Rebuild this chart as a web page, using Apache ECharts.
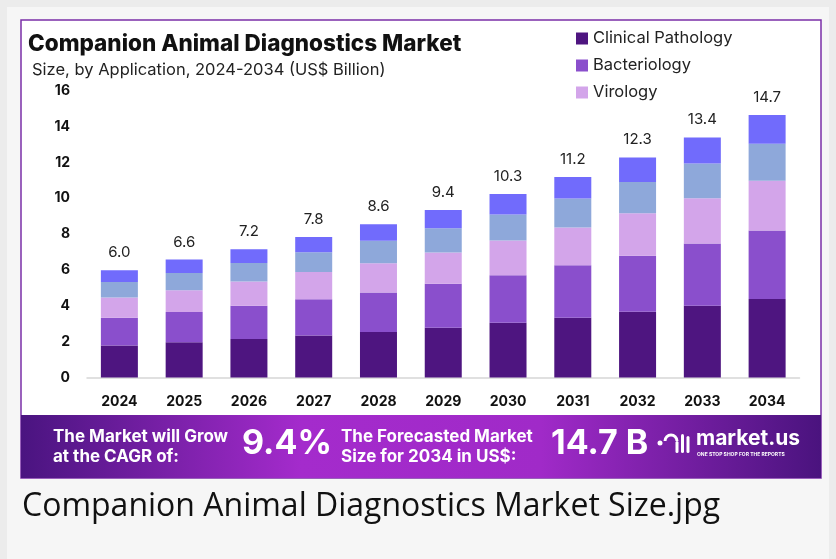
<!DOCTYPE html>
<html>
<head>
<meta charset="utf-8">
<style>
html, body { margin: 0; padding: 0; background: #ececec; }
#chart { width: 836px; height: 559px; }
</style>
<script src="https://cdn.jsdelivr.net/npm/echarts@6/dist/echarts.min.js"></script>
</head>
<body>
<div id="chart"></div>
<script>
// 横坐标 years
const years = ['2024', '2025', '2026', '2027', '2028', '2029', '2030', '2031', '2032', '2033', '2034']
// segments, bottom to top (US$ Billion)
const clinicalPathology = [1.78, 1.96, 2.15, 2.34, 2.54, 2.78, 3.06, 3.34, 3.67, 4.00, 4.38]
const bacteriology = [1.55, 1.70, 1.85, 2.03, 2.20, 2.45, 2.64, 2.92, 3.12, 3.47, 3.82]
const virology = [1.14, 1.21, 1.36, 1.51, 1.63, 1.75, 1.94, 2.11, 2.38, 2.53, 2.77]
const others1 = [0.86, 0.96, 1.03, 1.11, 1.26, 1.35, 1.46, 1.61, 1.74, 1.94, 2.07]
const others2 = [0.65, 0.75, 0.77, 0.85, 0.92, 1.01, 1.14, 1.21, 1.37, 1.45, 1.61]
const totals = ['6.0', '6.6', '7.2', '7.8', '8.6', '9.4', '10.3', '11.2', '12.3', '13.4', '14.7']
const yTicks = [0, 2, 4, 6, 8, 10, 12, 14, 16]

const colors = ['#4e1580', '#8a4fcc', '#d3a5ea', '#8ea8da', '#716bfc']
const font = 'Inter, "Noto Sans", sans-serif'

function makeSeries(name, data, idx) {
  const s = {
    name: name,
    type: 'bar',
    stack: 'total',
    barWidth: 37,
    data: data,
    itemStyle: { color: colors[idx] }
  }
  // total on top of the last segment
  if (idx === 4) {
    s.label = {
      show: true,
      position: 'top',
      distance: 10,
      color: '#222',
      fontSize: 15,
      fontFamily: font,
      formatter: p => totals[p.dataIndex]
    }
  }
  return s
}

const option = {
  animation: false,
  backgroundColor: '#ececec',
  grid: { left: 87, right: 36.5, top: 90.7, bottom: 181.5 },
  legend: {
    data: ['Clinical Pathology', 'Bacteriology', 'Virology'],
    orient: 'vertical',
    left: 571,
    top: 25,
    itemWidth: 12,
    itemHeight: 12,
    itemGap: 10,
    icon: 'rect',
    textStyle: { fontSize: 16.5, color: '#222', fontFamily: font }
  },
  xAxis: {
    type: 'category',
    data: years,
    axisTick: { show: false },
    axisLine: { lineStyle: { color: '#d6d6d6', width: 1.5 } },
    axisLabel: { margin: 17, fontSize: 14, fontWeight: 'bold', color: '#111', fontFamily: font }
  },
  yAxis: {
    type: 'value',
    min: yTicks[0],
    max: yTicks[yTicks.length - 1],
    interval: 2,
    splitLine: { show: false },
    axisLabel: { margin: 17, fontSize: 14, fontWeight: 'bold', color: '#111', fontFamily: font }
  },
  series: [
    makeSeries('Clinical Pathology', clinicalPathology, 0),
    makeSeries('Bacteriology', bacteriology, 1),
    makeSeries('Virology', virology, 2),
    makeSeries('Others A', others1, 3),
    makeSeries('Others B', others2, 4)
  ],
  graphic: [
    // page panel + white card with purple frame
    { type: 'rect', z: -10, shape: { x: 7, y: 7, width: 822, height: 552 }, style: { fill: '#f6f6f6' } },
    { type: 'rect', z: -9, shape: { x: 21, y: 20, width: 800, height: 458 }, style: { fill: '#fff', stroke: '#7b2fa8', lineWidth: 1.5 } },
    // titles
    { type: 'text', left: 28, top: 33, style: { text: 'Companion Animal Diagnostics Market', font: '800 22.5px ' + font, fill: '#111' } },
    { type: 'text', left: 32, top: 62, style: { text: 'Size, by Application, 2024-2034 (US$ Billion)', font: '16.5px ' + font, fill: '#222' } },
    // bottom banner
    {
      type: 'rect',
      shape: { x: 21, y: 415, width: 800, height: 63 },
      style: {
        fill: new echarts.graphic.LinearGradient(0, 0, 1, 0, [
          { offset: 0, color: '#4a1480' },
          { offset: 0.35, color: '#a42bcc' },
          { offset: 0.65, color: '#a02ac8' },
          { offset: 1, color: '#4a137e' }
        ])
      }
    },
    { type: 'text', left: 53, top: 427, style: { text: 'The Market will Grow\nat the CAGR of:', font: 'bold 17px ' + font, fill: '#fff', lineHeight: 20 } },
    { type: 'text', left: 242, top: 427, style: { text: '9.4%', font: 'bold 34px ' + font, fill: '#fff' } },
    { type: 'text', left: 341, top: 427, style: { text: 'The Forecasted Market\nSize for 2034 in US$:', font: 'bold 17px ' + font, fill: '#fff', lineHeight: 20 } },
    { type: 'text', left: 551, top: 427, style: { text: '14.7 B', font: 'bold 34px ' + font, fill: '#fff' } },
    // logo mark
    { type: 'circle', shape: { cx: 660, cy: 443, r: 2.5 }, style: { fill: '#fff' } },
    { type: 'arc', shape: { cx: 671, cy: 441, r: 6, startAngle: Math.PI, endAngle: 2 * Math.PI }, style: { stroke: '#fff', lineWidth: 3, fill: null } },
    { type: 'rect', shape: { x: 675.5, y: 441, width: 3, height: 12, r: 1.5 }, style: { fill: '#fff' } },
    { type: 'rect', shape: { x: 681, y: 434, width: 3, height: 19, r: 1.5 }, style: { fill: '#fff' } },
    { type: 'rect', shape: { x: 686.5, y: 436, width: 3, height: 17, r: 1.5 }, style: { fill: '#fff' } },
    { type: 'text', left: 696, top: 428, style: { text: 'market.us', font: 'bold 21px ' + font, fill: '#fff' } },
    { type: 'text', left: 697, top: 452, style: { text: 'ONE STOP SHOP FOR THE REPORTS', font: 'bold 5px ' + font, fill: '#fff' } },
    // caption
    { type: 'text', left: 22, top: 491, style: { text: 'Companion Animal Diagnostics Market Size.jpg', font: '32px "Open Sans", sans-serif', fill: '#111' } }
  ]
}

const myChart = echarts.init(document.getElementById('chart'))
myChart.setOption(option)
window.addEventListener('resize', () => {
  myChart.resize()
})
</script>
</body>
</html>
